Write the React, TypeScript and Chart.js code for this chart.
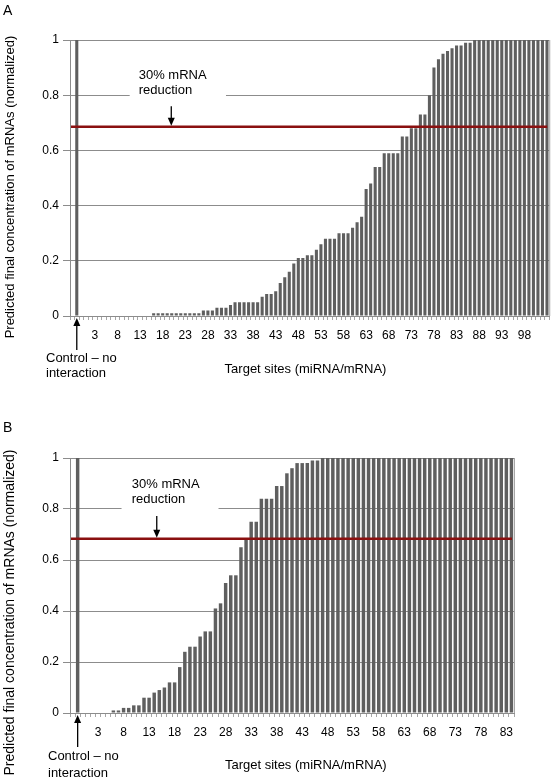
import React, { useEffect, useRef } from "react";
import { Chart, registerables } from "chart.js";

Chart.register(...registerables);

const FONT = "'Liberation Sans', Arial, sans-serif";
const BAR_COLOR = "#5f5f5f";
const GRID_COLOR = "#8c8c8c";
const AXIS_COLOR = "#8c8c8c";
const RED = "#8a1010";

// ---------- Panel A data ----------
const CATEGORIES_A = ["", "Control", ...Array.from({ length: 104 }, (_, i) => String(i))];
const VALUES_A = [
  0, 1,
  0, 0, 0, 0, 0, 0, 0, 0, 0, 0, 0, 0, 0, 0, 0, 0,
  0.01, 0.01, 0.01, 0.01, 0.01, 0.01, 0.01, 0.01, 0.01, 0.01, 0.01,
  0.02, 0.02, 0.02,
  0.03, 0.03, 0.03,
  0.04,
  0.05, 0.05, 0.05, 0.05, 0.05, 0.05,
  0.07,
  0.08, 0.08,
  0.09,
  0.12, 0.14, 0.16, 0.19,
  0.21, 0.21,
  0.22, 0.22,
  0.24, 0.26,
  0.28, 0.28, 0.28,
  0.30, 0.30, 0.30,
  0.32, 0.34, 0.36, 0.46, 0.48,
  0.54, 0.54,
  0.59, 0.59, 0.59, 0.59,
  0.65, 0.65,
  0.68, 0.68,
  0.73, 0.73,
  0.80, 0.90, 0.93, 0.95, 0.96, 0.97,
  0.98, 0.98,
  0.99, 0.99,
  1, 1, 1, 1, 1, 1, 1, 1, 1, 1, 1, 1, 1, 1, 1, 1, 1,
];
const TICKS_A = ["3", "8", "13", "18", "23", "28", "33", "38", "43", "48", "53", "58", "63", "68", "73", "78", "83", "88", "93", "98"];
const THRESHOLD_A = 0.686;

// ---------- Panel B data ----------
const CATEGORIES_B = ["", "Control", ...Array.from({ length: 85 }, (_, i) => String(i))];
const VALUES_B = [
  0, 1,
  0, 0, 0, 0, 0, 0,
  0.01, 0.01, 0.02, 0.02, 0.03, 0.03, 0.06, 0.06,
  0.08, 0.09, 0.10, 0.12, 0.12, 0.18, 0.24, 0.26, 0.26, 0.30, 0.32, 0.32,
  0.41, 0.43, 0.51, 0.54, 0.54, 0.65, 0.68, 0.75, 0.75,
  0.84, 0.84, 0.84, 0.89, 0.89, 0.94, 0.96, 0.98, 0.98, 0.98, 0.99, 0.99,
  1, 1, 1, 1, 1, 1, 1, 1, 1, 1, 1, 1, 1, 1, 1, 1, 1, 1, 1,
  1, 1, 1, 1, 1, 1, 1, 1, 1, 1, 1, 1, 1, 1, 1, 1, 1, 1, 1,
];
const TICKS_B = ["3", "8", "13", "18", "23", "28", "33", "38", "43", "48", "53", "58", "63", "68", "73", "78", "83"];
const THRESHOLD_B = 0.683;

const Y_TICKS = ["0", "0.2", "0.4", "0.6", "0.8", "1"];

const Y_TITLE = "Predicted final concentration of mRNAs (normalized)";
const X_TITLE = "Target sites (miRNA/mRNA)";
const NOTE_LINES = ["30% mRNA", "reduction"];
const CONTROL_LINES = ["Control \u2013 no", "interaction"];

type PanelCfg = {
  letter: string;
  categories: string[];
  values: number[];
  ticks: string[];
  threshold: number;
  top: number;
  width: number;
  height: number;
  areaLeft: number;
  areaTop: number;
  areaRight: number;
  areaBottom: number;
  letterPos: [number, number];
  yTitle: { x: number; y: number; size: number };
  xTitle: { x: number; y: number };
  control: { left: number; y1: number; y2: number };
  note: {
    textX: number; y1: number; y2: number;
    boxFrom: number; boxTo: number; boxTop: number; boxBottom: number;
    arrowX: number; arrowTop: number;
  };
};

const PANEL_A: PanelCfg = {
  letter: "A",
  categories: CATEGORIES_A,
  values: VALUES_A,
  ticks: TICKS_A,
  threshold: THRESHOLD_A,
  top: 0,
  width: 555,
  height: 400,
  areaLeft: 70,
  areaTop: 40,
  areaRight: 552,
  areaBottom: 316,
  letterPos: [3, 11],
  yTitle: { x: 10, y: 187, size: 13 },
  xTitle: { x: 305.5, y: 369 },
  control: { left: 46, y1: 358, y2: 373 },
  note: {
    textX: 14.7, y1: 0.87, y2: 0.819,
    boxFrom: 12.7, boxTo: 34, boxTop: 0.9, boxBottom: 0.78,
    arrowX: 21.9, arrowTop: 0.76,
  },
};

const PANEL_B: PanelCfg = {
  letter: "B",
  categories: CATEGORIES_B,
  values: VALUES_B,
  ticks: TICKS_B,
  threshold: THRESHOLD_B,
  top: 400,
  width: 555,
  height: 380,
  areaLeft: 70,
  areaTop: 58,
  areaRight: 514,
  areaBottom: 313,
  letterPos: [3, 28],
  yTitle: { x: 10, y: 212.5, size: 14 },
  xTitle: { x: 305.8, y: 365 },
  control: { left: 48, y1: 356.7, y2: 373 },
  note: {
    textX: 11.6, y1: 0.898, y2: 0.839,
    boxFrom: 9.6, boxTo: 28.6, boxTop: 0.93, boxBottom: 0.78,
    arrowX: 16.5, arrowTop: 0.773,
  },
};

function catPx(scale: any, v: number) {
  const p0 = scale.getPixelForValue(0);
  const p1 = scale.getPixelForValue(1);
  return p0 + (p1 - p0) * v;
}

function drawDownArrow(ctx: CanvasRenderingContext2D, x: number, yTop: number, yTip: number) {
  const head = 8;
  ctx.beginPath();
  ctx.moveTo(x, yTop);
  ctx.lineTo(x, yTip - head + 1);
  ctx.stroke();
  ctx.beginPath();
  ctx.moveTo(x, yTip);
  ctx.lineTo(x - 3.5, yTip - head);
  ctx.lineTo(x + 3.5, yTip - head);
  ctx.closePath();
  ctx.fill();
}

function drawUpArrow(ctx: CanvasRenderingContext2D, x: number, yTip: number, yBottom: number) {
  const head = 8;
  ctx.beginPath();
  ctx.moveTo(x, yBottom);
  ctx.lineTo(x, yTip + head - 1);
  ctx.stroke();
  ctx.beginPath();
  ctx.moveTo(x, yTip);
  ctx.lineTo(x - 3.5, yTip + head);
  ctx.lineTo(x + 3.5, yTip + head);
  ctx.closePath();
  ctx.fill();
}

function makeAnnotations(cfg: PanelCfg) {
  return {
    id: "panelAnnotations",
    beforeDatasetsDraw(chart: any) {
      const { ctx, scales } = chart;
      const x = scales.x;
      const y = scales.y;
      const n = cfg.note;
      const x0 = catPx(x, n.boxFrom);
      const x1 = catPx(x, n.boxTo);
      const y0 = y.getPixelForValue(n.boxTop);
      const y1 = y.getPixelForValue(n.boxBottom);
      ctx.save();
      ctx.fillStyle = "#ffffff";
      ctx.fillRect(x0, y0, x1 - x0, y1 - y0);
      ctx.restore();
    },
    afterDatasetsDraw(chart: any) {
      const { ctx, scales, chartArea } = chart;
      const x = scales.x;
      const y = scales.y;
      const n = cfg.note;
      ctx.save();
      // right border of plot area
      ctx.strokeStyle = "#a6a6a6";
      ctx.lineWidth = 1;
      ctx.beginPath();
      ctx.moveTo(chartArea.right + 0.5, chartArea.top);
      ctx.lineTo(chartArea.right + 0.5, chartArea.bottom);
      ctx.stroke();
      // threshold line
      const ty = y.getPixelForValue(cfg.threshold);
      ctx.strokeStyle = RED;
      ctx.lineWidth = 2.5;
      ctx.beginPath();
      ctx.moveTo(chartArea.left + 1, ty);
      ctx.lineTo(chartArea.right - 2, ty);
      ctx.stroke();
      // note text
      ctx.fillStyle = "#000";
      ctx.font = `13px ${FONT}`;
      ctx.textAlign = "left";
      ctx.textBaseline = "middle";
      const tx = catPx(x, n.textX);
      ctx.fillText(NOTE_LINES[0], tx, y.getPixelForValue(n.y1));
      ctx.fillText(NOTE_LINES[1], tx, y.getPixelForValue(n.y2));
      // note arrow
      ctx.strokeStyle = "#000";
      ctx.lineWidth = 1.3;
      drawDownArrow(ctx, catPx(x, n.arrowX), y.getPixelForValue(n.arrowTop), ty - 1);
      ctx.restore();
    },
    afterDraw(chart: any) {
      const { ctx, scales, chartArea } = chart;
      const x = scales.x;
      ctx.save();
      ctx.fillStyle = "#000";
      ctx.strokeStyle = "#000";
      // panel letter
      ctx.font = `14px ${FONT}`;
      ctx.textAlign = "left";
      ctx.textBaseline = "middle";
      ctx.fillText(cfg.letter, cfg.letterPos[0], cfg.letterPos[1]);
      // y title
      ctx.save();
      ctx.translate(cfg.yTitle.x, cfg.yTitle.y);
      ctx.rotate(-Math.PI / 2);
      ctx.font = `${cfg.yTitle.size}px ${FONT}`;
      ctx.textAlign = "center";
      ctx.textBaseline = "middle";
      ctx.fillText(Y_TITLE, 0, 0);
      ctx.restore();
      // x title
      ctx.font = `13px ${FONT}`;
      ctx.textAlign = "center";
      ctx.textBaseline = "middle";
      ctx.fillText(X_TITLE, cfg.xTitle.x, cfg.xTitle.y);
      // control note
      ctx.textAlign = "left";
      ctx.fillText(CONTROL_LINES[0], cfg.control.left, cfg.control.y1);
      ctx.fillText(CONTROL_LINES[1], cfg.control.left, cfg.control.y2);
      ctx.lineWidth = 1.3;
      drawUpArrow(ctx, x.getPixelForValue(1), chartArea.bottom + 2, chartArea.bottom + 34);
      ctx.restore();
    },
  };
}

function Panel({ cfg }: { cfg: PanelCfg }) {
  const ref = useRef<HTMLCanvasElement>(null);
  useEffect(() => {
    const shown = new Set(cfg.ticks);
    const chart = new Chart(ref.current as HTMLCanvasElement, {
      type: "bar",
      data: {
        labels: cfg.categories,
        datasets: [
          {
            data: cfg.values,
            backgroundColor: BAR_COLOR,
            borderWidth: 0,
            barPercentage: 0.68,
            categoryPercentage: 1,
          },
        ],
      },
      options: {
        animation: false,
        responsive: false,
        maintainAspectRatio: false,
        events: [],
        layout: {
          padding: { top: cfg.areaTop, right: cfg.width - cfg.areaRight, left: 0, bottom: 0 },
        },
        plugins: {
          legend: { display: false },
          tooltip: { enabled: false },
        },
        scales: {
          x: {
            afterFit: (s: any) => {
              s.height = cfg.height - cfg.areaBottom;
            },
            grid: {
              drawOnChartArea: false,
              drawTicks: true,
              tickLength: 4,
              color: "#a6a6a6",
              offset: true,
            },
            border: { color: AXIS_COLOR },
            ticks: {
              autoSkip: false,
              maxRotation: 0,
              minRotation: 0,
              padding: 8,
              color: "#000",
              font: { size: 12, family: FONT },
              callback: (_v: any, i: number) => (shown.has(cfg.categories[i]) ? cfg.categories[i] : ""),
            },
          },
          y: {
            min: 0,
            max: 1,
            afterFit: (s: any) => {
              s.width = cfg.areaLeft;
            },
            grid: { color: GRID_COLOR, tickLength: 7 },
            border: { color: AXIS_COLOR },
            ticks: {
              stepSize: 0.2,
              padding: 4,
              color: "#000",
              font: { size: 12, family: FONT },
              callback: (_v: any, i: number) => Y_TICKS[i],
            },
          },
        },
      } as any,
      plugins: [makeAnnotations(cfg)],
    });
    return () => chart.destroy();
  }, [cfg]);
  return (
    <canvas
      ref={ref}
      width={cfg.width}
      height={cfg.height}
      style={{ position: "absolute", left: 0, top: cfg.top, width: cfg.width, height: cfg.height }}
    />
  );
}

export default function App() {
  return (
    <div style={{ position: "absolute", left: 0, top: 0, width: 555, height: 780, background: "#fff" }}>
      <Panel cfg={PANEL_A} />
      <Panel cfg={PANEL_B} />
    </div>
  );
}
